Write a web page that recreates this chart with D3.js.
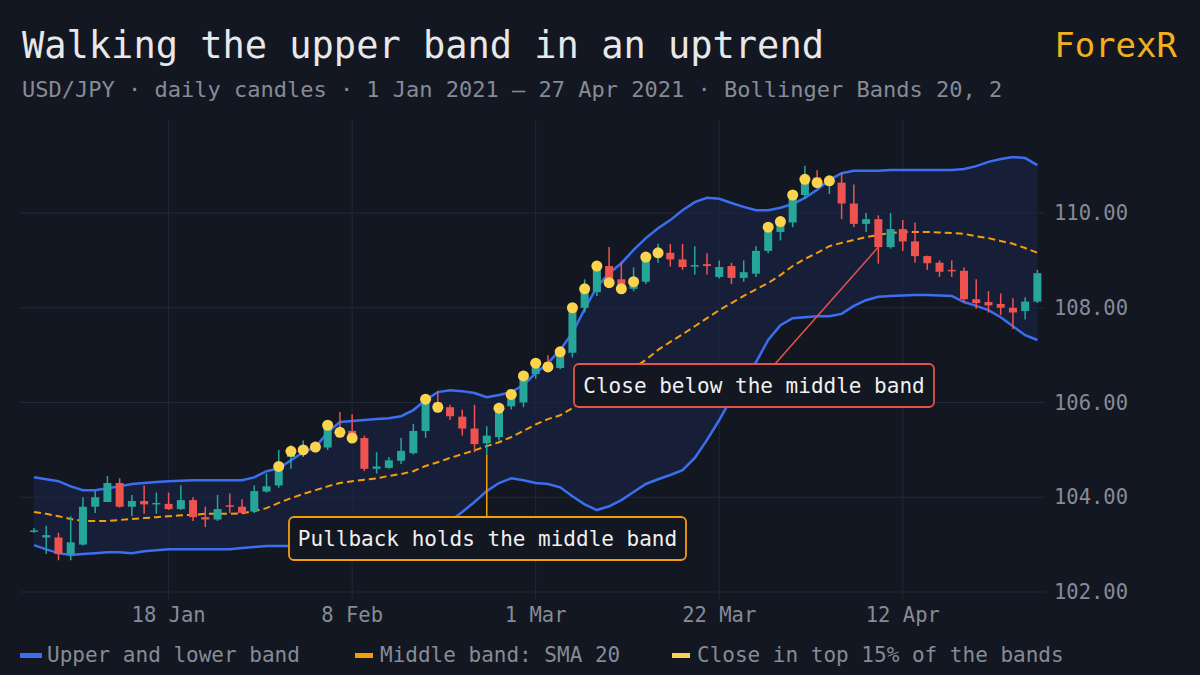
<!DOCTYPE html>
<html><head><meta charset="utf-8">
<script src="https://cdn.jsdelivr.net/npm/d3@7"></script>
<style>
html,body{margin:0;padding:0;background:#131722;}
svg{display:block;font-family:"DejaVu Sans Mono","Liberation Mono",monospace;}
</style></head>
<body><svg id="c" width="1200" height="675"></svg>
<script>
const open  = [103.3,103.15,103.15,102.8,103.0,103.8,103.9,104.3,103.8,103.92,103.87,103.86,103.75,103.94,103.58,103.53,103.83,103.8,103.7,104.12,104.25,104.85,104.95,105.0,105.05,105.45,105.4,105.25,104.6,104.62,104.77,104.93,105.4,106.0,105.9,105.7,105.45,105.14,105.27,105.92,106.0,106.6,106.85,106.73,107.05,108.0,108.33,108.88,108.6,108.4,108.55,109.1,109.16,109.02,108.88,108.92,108.65,108.88,108.63,108.72,109.2,109.6,109.8,110.38,110.75,110.6,110.64,110.2,109.77,109.87,109.28,109.66,109.4,109.09,108.95,108.8,108.78,108.18,108.12,108.08,108.0,107.93,108.13];
const high  = [103.35,103.4,103.25,103.6,104.0,104.13,104.45,104.4,104.05,104.25,104.1,104.1,104.25,104.0,103.8,104.05,104.08,103.96,104.25,104.5,105.0,105.1,105.2,105.15,105.6,105.8,105.75,105.3,104.95,104.85,105.25,105.55,106.1,106.25,105.95,105.85,105.95,105.5,106.0,106.25,106.6,106.9,107.0,107.1,108.05,108.6,108.95,109.28,108.97,108.85,109.1,109.35,109.35,109.35,109.3,109.15,109.0,108.95,109.0,109.3,109.75,109.9,110.45,111.0,110.9,110.75,110.85,110.6,110.0,109.95,110.0,109.85,109.8,109.1,109.0,109.0,108.85,108.6,108.35,108.3,108.2,108.22,108.8];
const low   = [103.25,102.8,102.67,102.67,102.98,103.67,103.9,103.78,103.6,103.65,103.65,103.73,103.73,103.5,103.37,103.5,103.67,103.65,103.67,104.1,104.2,104.6,104.85,104.95,105.0,105.3,105.2,104.55,104.5,104.6,104.7,104.9,105.25,105.85,105.63,105.3,104.95,104.9,105.2,105.85,105.9,106.5,106.65,106.7,106.95,107.9,108.25,108.45,108.35,108.35,108.5,108.95,108.87,108.8,108.7,108.7,108.62,108.5,108.55,108.65,109.15,109.42,109.7,110.3,110.55,110.4,109.87,109.7,109.6,108.93,109.25,109.2,108.95,108.8,108.65,108.65,108.1,107.98,107.9,107.85,107.55,107.75,108.1];
const close = [103.3,103.2,102.8,103.05,103.8,104.0,104.3,103.8,103.92,103.85,103.88,103.75,103.94,103.58,103.53,103.75,103.8,103.67,104.13,104.23,104.65,104.97,105.0,105.06,105.52,105.37,105.25,104.6,104.65,104.78,104.98,105.4,106.07,105.9,105.71,105.45,105.12,105.3,105.88,106.17,106.56,106.83,106.75,107.07,108.0,108.4,108.88,108.53,108.4,108.55,109.07,109.16,109.02,108.86,108.9,108.88,108.86,108.63,108.75,109.2,109.7,109.82,110.38,110.71,110.64,110.68,110.2,109.77,109.87,109.28,109.66,109.4,109.09,108.94,108.76,108.77,108.18,108.1,108.05,108.0,107.9,108.13,108.73];
const upper = [104.42,104.38,104.34,104.23,104.15,104.15,104.19,104.23,104.28,104.30,104.32,104.34,104.35,104.36,104.36,104.36,104.36,104.36,104.42,104.55,104.61,104.78,104.95,105.06,105.37,105.59,105.61,105.63,105.65,105.67,105.71,105.84,106.05,106.22,106.26,106.24,106.20,106.11,106.16,106.22,106.37,106.62,106.83,107.11,107.47,107.97,108.44,108.73,108.94,109.22,109.47,109.68,109.85,110.06,110.23,110.32,110.30,110.21,110.13,110.06,110.06,110.11,110.19,110.32,110.49,110.70,110.84,110.89,110.89,110.89,110.91,110.91,110.91,110.91,110.91,110.91,110.93,110.99,111.08,111.14,111.18,111.16,111.01];
const middle= [103.69,103.65,103.60,103.54,103.50,103.50,103.50,103.52,103.54,103.56,103.58,103.60,103.62,103.63,103.65,103.65,103.65,103.66,103.71,103.77,103.88,103.98,104.07,104.15,104.23,104.30,104.34,104.37,104.40,104.45,104.49,104.55,104.66,104.74,104.83,104.91,104.99,105.08,105.16,105.27,105.40,105.54,105.65,105.73,105.88,106.05,106.22,106.39,106.56,106.73,106.90,107.11,107.28,107.44,107.61,107.78,107.95,108.10,108.25,108.39,108.52,108.69,108.88,109.03,109.16,109.30,109.37,109.43,109.49,109.54,109.58,109.60,109.60,109.60,109.59,109.58,109.56,109.51,109.47,109.41,109.35,109.26,109.16];
const lower = [102.99,102.90,102.82,102.78,102.80,102.82,102.84,102.84,102.82,102.86,102.88,102.90,102.90,102.90,102.90,102.90,102.90,102.93,102.95,102.97,102.97,102.97,102.95,102.93,102.93,102.93,102.95,102.97,102.99,103.03,103.07,103.14,103.22,103.33,103.50,103.69,103.90,104.13,104.30,104.40,104.36,104.30,104.28,104.21,104.02,103.85,103.73,103.81,103.94,104.11,104.28,104.38,104.47,104.57,104.83,105.21,105.63,106.09,106.47,106.85,107.32,107.63,107.78,107.80,107.82,107.82,107.87,108.04,108.16,108.23,108.25,108.26,108.27,108.27,108.26,108.25,108.12,108.04,107.95,107.80,107.61,107.42,107.32];
const topCloseIdx = [20,21,22,23,24,25,26,32,33,38,39,40,41,42,43,44,45,46,47,48,49,50,51,60,61,62,63,64,65];
const yTicks = [102,104,106,108,110];
const xTickDates = ["2021-01-18","2021-02-08","2021-03-01","2021-03-22","2021-04-12"];
const xTickLabels = ["18 Jan","8 Feb","1 Mar","22 Mar","12 Apr"];

// trading days (weekdays) 1 Jan – 27 Apr 2021
const dates = [];
for (let d = new Date(Date.UTC(2021,0,1)); d <= new Date(Date.UTC(2021,3,27)); d.setUTCDate(d.getUTCDate()+1)) {
  const w = d.getUTCDay(); if (w!==0 && w!==6) dates.push(d.toISOString().slice(0,10));
}
const data = dates.map((t,i)=>({t,i,o:open[i],h:high[i],l:low[i],c:close[i],u:upper[i],m:middle[i],lo:lower[i]}));

const svg = d3.select("#c");
const x = d3.scalePoint().domain(dates).range([34,1037.4]);
const y = d3.scaleLinear().domain([102,110]).range([592,213]);
const L=20,R=1045,T=120,B=600;

svg.append("g").selectAll("line").data(yTicks).join("line")
  .attr("x1",L).attr("x2",R).attr("y1",d=>y(d)).attr("y2",d=>y(d))
  .attr("stroke","#232838").attr("stroke-width",1);
svg.append("g").selectAll("line").data(xTickDates).join("line")
  .attr("x1",d=>x(d)).attr("x2",d=>x(d)).attr("y1",T).attr("y2",B)
  .attr("stroke","#232838").attr("stroke-width",1);

svg.append("path").datum(data)
  .attr("d",d3.area().x(d=>x(d.t)).y0(d=>y(d.lo)).y1(d=>y(d.u)))
  .attr("fill","#1a2340").attr("opacity",0.75);
const ln = k=>d3.line().x(d=>x(d.t)).y(d=>y(d[k]));
svg.append("path").datum(data).attr("d",ln("u")).attr("fill","none").attr("stroke","#3b6ff0").attr("stroke-width",2.5);
svg.append("path").datum(data).attr("d",ln("lo")).attr("fill","none").attr("stroke","#3b6ff0").attr("stroke-width",2.5);
svg.append("path").datum(data).attr("d",ln("m")).attr("fill","none").attr("stroke","#f59e0b").attr("stroke-width",2).attr("stroke-dasharray","7,4");

const up="#26a69a", dn="#ef5350";
const cg = svg.append("g");
cg.selectAll("line").data(data).join("line")
  .attr("x1",d=>x(d.t)).attr("x2",d=>x(d.t)).attr("y1",d=>y(d.h)).attr("y2",d=>y(d.l))
  .attr("stroke",d=>d.c>=d.o?up:dn).attr("stroke-width",1.5);
cg.selectAll("rect").data(data).join("rect")
  .attr("x",d=>x(d.t)-4).attr("width",8)
  .attr("y",d=>y(Math.max(d.o,d.c))).attr("height",d=>Math.max(1.5,Math.abs(y(d.o)-y(d.c))))
  .attr("fill",d=>d.c>=d.o?up:dn);

svg.append("g").selectAll("circle").data(topCloseIdx.map(i=>data[i])).join("circle")
  .attr("cx",d=>x(d.t)).attr("cy",d=>y(d.c)).attr("r",5.5).attr("fill","#fcd34d");

function note(px,py,tx,ty,bx,by,bw,bh,txt,col){
  svg.append("line").attr("x1",px).attr("y1",py).attr("x2",tx).attr("y2",ty).attr("stroke",col).attr("stroke-width",1.5);
  svg.append("rect").attr("x",bx).attr("y",by).attr("width",bw).attr("height",bh).attr("rx",5)
    .attr("fill","#131722").attr("stroke",col).attr("stroke-width",1.8);
  svg.append("text").attr("x",bx+bw/2).attr("y",by+bh/2+7).attr("text-anchor","middle")
    .attr("fill","#f0f0f0").attr("font-size",21).text(txt);
}
const a1 = data[37], a2 = data[69];
note(x(a1.t), y(a1.l), x(a1.t), 517, 289, 517, 397, 43, "Pullback holds the middle band", "#f59e0b");
note(x(a2.t), y(a2.c), 775, 364, 574, 364, 360, 43, "Close below the middle band", "#e5534b");

svg.append("g").selectAll("text").data(yTicks).join("text")
  .attr("x",1054).attr("y",d=>y(d)+7).attr("fill","#868b96").attr("font-size",20.5).text(d=>d.toFixed(2));
svg.append("g").selectAll("text").data(xTickDates).join("text")
  .attr("x",d=>x(d)).attr("y",622).attr("text-anchor","middle").attr("fill","#868b96").attr("font-size",20.5)
  .text((d,i)=>xTickLabels[i]);

svg.append("text").attr("x",22).attr("y",58).attr("fill","#e8e8e8").attr("font-size",37).text("Walking the upper band in an uptrend");
svg.append("text").attr("x",22).attr("y",97).attr("fill","#868b96").attr("font-size",22)
  .text("USD/JPY · daily candles · 1 Jan 2021 – 27 Apr 2021 · Bollinger Bands 20, 2");
svg.append("text").attr("x",1177).attr("y",57).attr("text-anchor","end").attr("fill","#f2b01e").attr("font-size",34).text("ForexR");

const leg = [["Upper and lower band","#3b6ff0",20],["Middle band: SMA 20","#f59e0b",355],["Close in top 15% of the bands","#fcd34d",672]];
leg.forEach(([t,c,lx])=>{
  svg.append("rect").attr("x",lx).attr("y",653).attr("width",lx===20?22:18).attr("height",5).attr("fill",c);
  svg.append("text").attr("x",lx+(lx===20?27:25)).attr("y",662).attr("fill","#868b96").attr("font-size",21).text(t);
});
</script></body></html>
